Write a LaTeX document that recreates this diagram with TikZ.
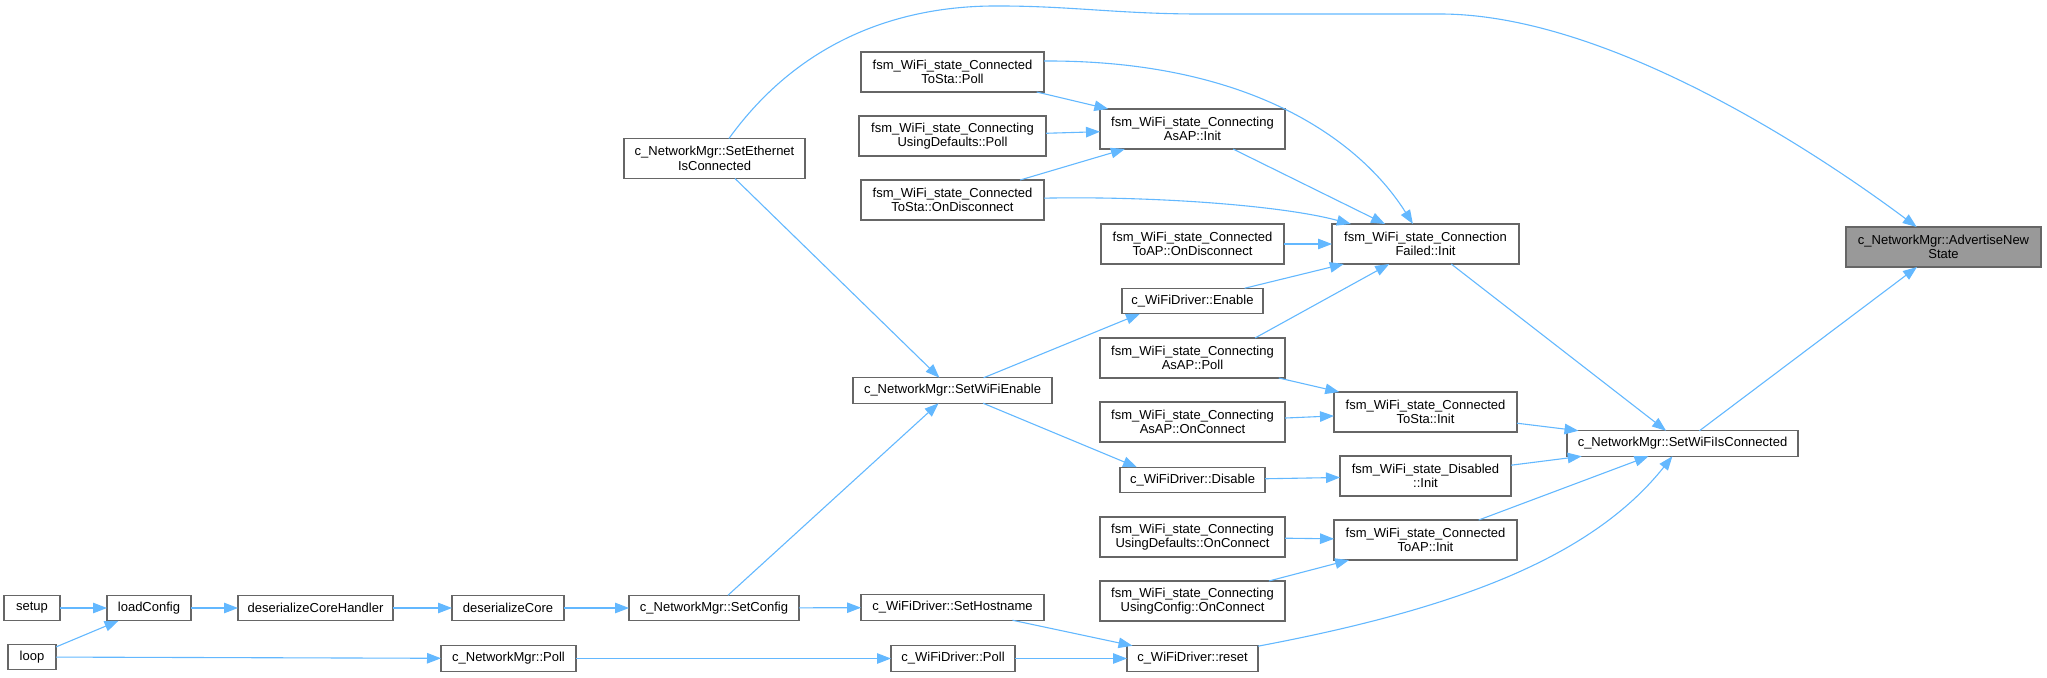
\documentclass[tikz,border=0pt]{standalone}
\usepackage{fontspec}
\setmainfont{Liberation Sans}
\usetikzlibrary{arrows.meta}
\definecolor{EdgeBlue}{HTML}{63B8FF}
\definecolor{BoxLine}{HTML}{666666}
\definecolor{FocusFill}{HTML}{999999}
\tikzset{
  fnbox/.style={draw=BoxLine, fill=white, line width=1.3pt, align=center, inner sep=2pt, outer sep=0pt, minimum height=25.5pt, font=\fontsize{13}{14.5}\selectfont},
  fnboxtwo/.style={fnbox, minimum height=40pt},
  fnfocus/.style={fnboxtwo, fill=FocusFill},
  callarrow/.style={-{Triangle[length=14pt,width=10.5pt]}, line width=1.1pt, draw=EdgeBlue}
}

\begin{document}
\begin{tikzpicture}[x=1pt,y=-1pt]
  \useasboundingbox (0,0) rectangle (2047,677);
  % callers, left to right
  \node[fnbox, minimum width=56pt] (setup) at (32,608) {setup};
  \node[fnbox, minimum width=48pt] (loop) at (32,657) {loop};
  \node[fnbox, minimum width=84pt] (loadcfg) at (149,608) {loadConfig};
  \node[fnbox, minimum width=155pt] (deshandler) at (315.5,608) {deserializeCoreHandler};
  \node[fnbox, minimum width=112pt] (descore) at (508,608) {deserializeCore};
  \node[fnbox, minimum width=170pt] (setcfg) at (714,608) {c\_NetworkMgr::SetConfig};
  \node[fnbox, minimum width=135pt] (mgrpoll) at (508.5,658.5) {c\_NetworkMgr::Poll};
  \node[fnboxtwo, minimum width=181pt] (seteth) at (714.5,158.5) {c\_NetworkMgr::SetEthernet\\IsConnected};
  \node[fnbox, minimum width=199pt] (setwifi) at (952.5,390.5) {c\_NetworkMgr::SetWiFiEnable};
  \node[fnbox, minimum width=183pt] (sethost) at (952.5,607.5) {c\_WiFiDriver::SetHostname};
  \node[fnbox, minimum width=124pt] (drvpoll) at (953,658.5) {c\_WiFiDriver::Poll};
  \node[fnboxtwo, minimum width=183pt] (tostapoll) at (952.5,72) {fsm\_WiFi\_state\_Connected\\ToSta::Poll};
  \node[fnboxtwo, minimum width=187pt] (defpoll) at (952.5,136) {fsm\_WiFi\_state\_Connecting\\UsingDefaults::Poll};
  \node[fnboxtwo, minimum width=183pt] (tostadisc) at (952.5,200) {fsm\_WiFi\_state\_Connected\\ToSta::OnDisconnect};
  \node[fnboxtwo, minimum width=185pt] (asapinit) at (1192.5,129) {fsm\_WiFi\_state\_Connecting\\AsAP::Init};
  \node[fnboxtwo, minimum width=183pt] (toapdisc) at (1192.5,244) {fsm\_WiFi\_state\_Connected\\ToAP::OnDisconnect};
  \node[fnbox, minimum width=141pt] (drvenable) at (1192.5,301) {c\_WiFiDriver::Enable};
  \node[fnboxtwo, minimum width=185pt] (asappoll) at (1192.5,358) {fsm\_WiFi\_state\_Connecting\\AsAP::Poll};
  \node[fnboxtwo, minimum width=185pt] (asapconn) at (1192.5,422) {fsm\_WiFi\_state\_Connecting\\AsAP::OnConnect};
  \node[fnbox, minimum width=145pt] (drvdisable) at (1192.5,480) {c\_WiFiDriver::Disable};
  \node[fnboxtwo, minimum width=185pt] (defconn) at (1192.5,537) {fsm\_WiFi\_state\_Connecting\\UsingDefaults::OnConnect};
  \node[fnboxtwo, minimum width=185pt] (cfgconn) at (1192.5,601) {fsm\_WiFi\_state\_Connecting\\UsingConfig::OnConnect};
  \node[fnbox, minimum width=131pt] (drvreset) at (1192.5,658.5) {c\_WiFiDriver::reset};
  \node[fnboxtwo, minimum width=187pt] (failinit) at (1425.5,244) {fsm\_WiFi\_state\_Connection\\Failed::Init};
  \node[fnboxtwo, minimum width=183pt] (tostainit) at (1425.5,412) {fsm\_WiFi\_state\_Connected\\ToSta::Init};
  \node[fnboxtwo, minimum width=171pt] (disinit) at (1425.5,476) {fsm\_WiFi\_state\_Disabled\\::Init};
  \node[fnboxtwo, minimum width=183pt] (toapinit) at (1425.5,540) {fsm\_WiFi\_state\_Connected\\ToAP::Init};
  \node[fnbox, minimum width=231pt] (setconn) at (1682.5,443.5) {c\_NetworkMgr::SetWiFiIsConnected};
  % the function itself
  \node[fnfocus, minimum width=195pt] (advert) at (1943.5,247) {c\_NetworkMgr::AdvertiseNew\\State};

  % straight calls
  \foreach \a/\b in {setup/loadcfg, loop/loadcfg, loop/mgrpoll, loadcfg/deshandler,
      deshandler/descore, descore/setcfg, setcfg/setwifi, setcfg/sethost, mgrpoll/drvpoll,
      seteth/setwifi, sethost/drvreset, drvpoll/drvreset,
      tostapoll/asapinit, defpoll/asapinit, tostadisc/asapinit, asapinit/failinit,
      toapdisc/failinit, drvenable/failinit, asappoll/tostainit,
      asapconn/tostainit, drvdisable/disinit, defconn/toapinit, cfgconn/toapinit,
      failinit/setconn, tostainit/setconn, disinit/setconn, toapinit/setconn, setconn/advert}
    \draw[callarrow] (\a) -- (\b);
  \draw[callarrow] (setwifi) -- ([xshift=18pt]drvenable.south west);
  \draw[callarrow] (setwifi) -- ([xshift=17pt]drvdisable.north west);
  \draw[callarrow] ([xshift=-30pt]asappoll.north east) -- (failinit);

  % curved calls
  \draw[callarrow] (seteth) .. controls (800,40) and (900,5) .. (1000,6)
    .. controls (1070,6) and (1120,14) .. (1200,14) -- (1440,14)
    .. controls (1600,14) and (1800,140) .. (advert);
  \draw[callarrow] ([yshift=11pt]tostapoll.east) .. controls (1250,60) and (1360,140) .. (failinit);
  \draw[callarrow] (tostadisc) .. controls (1150,196) and (1280,205) .. (failinit);
  \draw[callarrow] (drvreset) .. controls (1450,610) and (1590,560) .. (setconn);
\end{tikzpicture}
\end{document}
